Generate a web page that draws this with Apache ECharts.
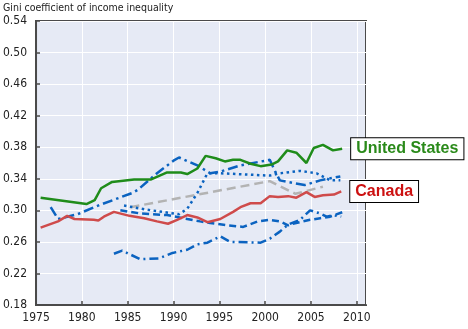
<!DOCTYPE html>
<html>
<head>
<meta charset="utf-8">
<script src="https://cdn.jsdelivr.net/npm/echarts@6/dist/echarts.min.js"></script>
<style>
html,body{margin:0;padding:0;background:#fff;}
#c{width:468px;height:329px;}
</style>
</head>
<body>
<div id="c"></div>
<script>
const titleText = 'Gini coefficient of income inequality';
const xTicks = [1975, 1980, 1985, 1990, 1995, 2000, 2005, 2010];
const yTicks = [0.18, 0.22, 0.26, 0.30, 0.34, 0.38, 0.42, 0.46, 0.50, 0.54];

const unitedStates = [[1975.5,0.316],[1980.5,0.308],[1981.4,0.313],[1982.1,0.328],[1983.3,0.336],[1985.7,0.339],[1987.5,0.339],[1989.3,0.348],[1990.8,0.348],[1991.5,0.346],[1992.6,0.353],[1993.5,0.369],[1994.6,0.366],[1995.6,0.362],[1996.5,0.364],[1997.3,0.364],[1998.4,0.359],[1999.5,0.356],[2000.7,0.358],[2001.4,0.362],[2002.4,0.376],[2003.4,0.373],[2004.5,0.360],[2005.3,0.379],[2006.3,0.383],[2007.4,0.376],[2008.4,0.378]];

const canada = [[1975.5,0.278],[1977.4,0.286],[1978.4,0.293],[1979.2,0.289],[1981.3,0.288],[1981.8,0.287],[1982.4,0.292],[1983.5,0.298],[1985.2,0.293],[1986.8,0.290],[1988.2,0.286],[1989.4,0.283],[1990.4,0.288],[1991.5,0.294],[1992.6,0.291],[1993.7,0.285],[1995.1,0.289],[1996.5,0.298],[1997.3,0.304],[1998.4,0.309],[1999.5,0.309],[2000.5,0.318],[2001.4,0.317],[2002.5,0.318],[2003.4,0.316],[2004.5,0.323],[2005.4,0.317],[2006.3,0.319],[2007.5,0.320],[2008.3,0.324]];

const greyAverage = [[1985.3,0.304],[2000.5,0.337],[2003.3,0.321],[2006.3,0.330]];

const blueDashDotUpper = [[1976.6,0.304],[1977.4,0.289],[1979.5,0.295],[1982,0.307],[1985.5,0.322],[1986.1,0.326],[1988.2,0.347],[1990,0.363],[1990.6,0.367],[1992.6,0.357],[1994,0.347],[1995.1,0.349],[1997.3,0.357],[2000.5,0.364],[2001.1,0.349],[2001.6,0.338],[2004.3,0.332],[2006,0.338],[2008.2,0.343]];

const blueDotted = [[1984.6,0.306],[1987,0.301],[1990.6,0.295],[1991.5,0.302],[1992.6,0.322],[1993.7,0.347],[1995.1,0.347],[2000.5,0.344],[2001.6,0.347],[2003.8,0.350],[2005.6,0.347],[2007.1,0.338],[2008.2,0.338]];

const blueDashed = [[1984.2,0.300],[1986.4,0.296],[1989.3,0.294],[1991.5,0.289],[1992.9,0.286],[1994,0.284],[1996,0.281],[1997.6,0.279],[1999.2,0.286],[2000.5,0.288],[2001.6,0.286],[2002.5,0.281],[2003,0.283],[2004.9,0.288],[2006,0.290],[2007.1,0.292],[2008.5,0.298]];

const blueDashDotLower = [[1983.5,0.245],[1984.4,0.249],[1985.1,0.245],[1986.4,0.238],[1988.4,0.239],[1989.9,0.246],[1991.5,0.250],[1992.6,0.257],[1993.7,0.259],[1995.1,0.267],[1996.2,0.260],[1999.5,0.259],[2000.5,0.264],[2001.6,0.273],[2002.5,0.282],[2003.8,0.288],[2004.9,0.300],[2006,0.296],[2006.7,0.292],[2007.4,0.294],[2008.3,0.292]];

const labelUS = 'United States';
const labelCA = 'Canada';

const FONT = "'Liberation Sans Narrow','Arial Narrow','DejaVu Sans Condensed',sans-serif";
const BLUE = '#0b63c0';

function lineSeries(data, color, type, z, extra) {
  return Object.assign({
    type: 'line', data: data, showSymbol: false, symbol: 'none', z: z,
    lineStyle: { color: color, width: 2.5, type: type },
    emphasis: { disabled: true }, silent: true
  }, extra || {});
}

function endLabel(text, color) {
  return {
    show: true, formatter: () => text, color: color,
    fontFamily: "'Liberation Sans',Arial,sans-serif", fontWeight: 'bold', fontSize: 16,
    backgroundColor: '#fff', borderColor: '#000', borderWidth: 1,
    padding: [3, 5, 2, 5], distance: 9
  };
}

const chart = echarts.init(document.getElementById('c'), null, { renderer: 'canvas' });
chart.setOption({
  animation: false,
  title: { text: titleText, left: 3, top: 3, padding: 0, textStyle: { fontFamily: FONT, fontSize: 10.5, fontWeight: 'normal', color: '#222' } },
  grid: { left: 35, top: 21, right: 102, bottom: 24, show: true, backgroundColor: '#e6eaf5', borderColor: '#4a4a4a', borderWidth: 2 },
  xAxis: {
    type: 'value', min: xTicks[0], max: 2011, interval: 5,
    axisLine: { show: true, lineStyle: { color: '#4a4a4a', width: 2 } },
    axisTick: { show: true, inside: true, length: 4, lineStyle: { color: '#4a4a4a', width: 1.5 } },
    axisLabel: { fontFamily: FONT, fontSize: 12, color: '#222', margin: 7, showMaxLabel: false,
      formatter: v => xTicks.indexOf(Math.round(v)) >= 0 && Math.abs(v - Math.round(v)) < 1e-6 ? String(Math.round(v)) : '' },
    splitLine: { show: true, lineStyle: { color: '#ffffff', width: 1 } }
  },
  yAxis: {
    type: 'value', min: yTicks[0], max: yTicks[yTicks.length - 1], interval: 0.04,
    axisLine: { show: true, lineStyle: { color: '#4a4a4a', width: 2 } },
    axisTick: { show: true, inside: true, length: 4, lineStyle: { color: '#4a4a4a', width: 1.5 } },
    axisLabel: { fontFamily: FONT, fontSize: 12, color: '#222', margin: 9, formatter: v => v.toFixed(2) },
    splitLine: { show: true, lineStyle: { color: '#ffffff', width: 1 } }
  },
  series: [
    lineSeries(greyAverage, '#b3b3b3', [9, 5], 2),
    lineSeries(blueDashDotLower, BLUE, [9, 4, 2, 4], 3),
    lineSeries(blueDashed, BLUE, [7, 4], 3),
    lineSeries(blueDotted, BLUE, [2.5, 3.5], 3),
    lineSeries(blueDashDotUpper, BLUE, [10, 4, 2.5, 4], 3),
    lineSeries(canada, '#cf4b4b', 'solid', 4, { endLabel: endLabel(labelCA, '#cc1010') }),
    lineSeries(unitedStates, '#1f8c1a', 'solid', 5, { endLabel: endLabel(labelUS, '#2a8a1a') })
  ]
});
</script>
</body>
</html>
